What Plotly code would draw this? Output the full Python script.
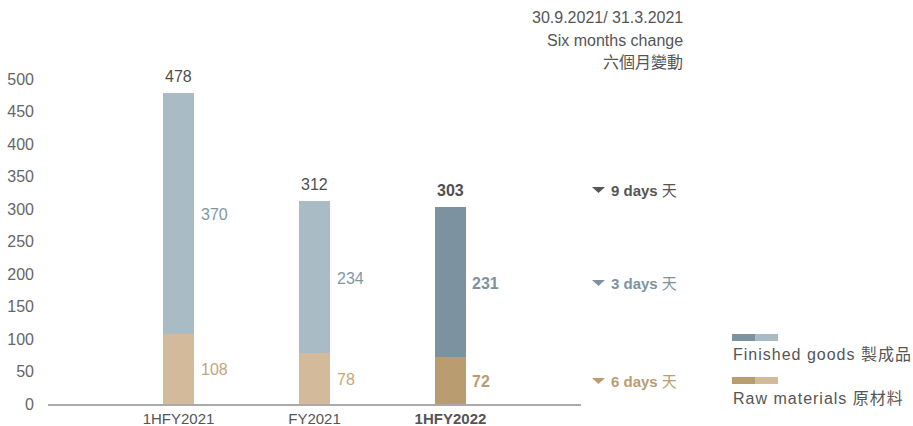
import plotly.graph_objects as go

# Inventory turnover days (stacked: raw materials + finished goods)
periods = ["1HFY2021", "FY2021", "1HFY2022"]
period_labels = ["1HFY2021", "FY2021", "<b>1HFY2022</b>"]
raw_materials = [108, 78, 72]
finished_goods = [370, 234, 231]
totals = [r + f for r, f in zip(raw_materials, finished_goods)]

change_days = [9, 3, 6]  # total, finished goods, raw materials

# palette
FG_LIGHT, FG_DARK = "#A9BBC4", "#7C939F"
RM_LIGHT, RM_DARK = "#D2BA9B", "#B99C70"
FG_TEXT, RM_TEXT = "#7F97A4", "#C4A57B"
DARK_TEXT = "#4F4F4F"
FONT = "Liberation Sans, Arial, Noto Sans CJK TC, sans-serif"
FS = 16

W, H = 913, 426
ML, MR, MT, MB = 48, 332, 14, 22
PW, PH = W - ML - MR, H - MT - MB


def fx(px):
    return (px - ML) / PW


def fy(py):
    return (H - MB - py) / PH


idx = list(range(len(periods)))
rm_colors = [RM_LIGHT, RM_LIGHT, RM_DARK]
fg_colors = [FG_LIGHT, FG_LIGHT, FG_DARK]

fig = go.Figure()
fig.add_trace(go.Bar(x=idx, y=raw_materials, marker=dict(color=rm_colors, line_width=0),
                     width=0.228, hoverinfo="skip"))
fig.add_trace(go.Bar(x=idx, y=finished_goods, marker=dict(color=fg_colors, line_width=0),
                     width=0.228, hoverinfo="skip"))

ann = []
last = len(periods) - 1
for i in idx:
    bold = i == last
    # totals above each bar
    ann.append(dict(x=i, y=totals[i], xref="x", yref="y", yshift=17, yanchor="middle",
                    text=f"<b>{totals[i]}</b>" if bold else str(totals[i]),
                    showarrow=False, font=dict(size=FS, color=DARK_TEXT)))
    # finished goods value beside its segment
    ann.append(dict(x=i, y=raw_materials[i] + finished_goods[i] / 2, xref="x", yref="y",
                    xanchor="left", yanchor="middle", xshift=20, yshift=-1,
                    text=f"<b>{finished_goods[i]}</b>" if bold else str(finished_goods[i]),
                    showarrow=False, font=dict(size=FS, color=FG_TEXT if not bold else FG_DARK)))
    # raw materials value beside its segment
    ann.append(dict(x=i, y=raw_materials[i] / 2, xref="x", yref="y",
                    xanchor="left", yanchor="middle", xshift=20, yshift=-1,
                    text=f"<b>{raw_materials[i]}</b>" if bold else str(raw_materials[i]),
                    showarrow=False, font=dict(size=FS, color=RM_TEXT if not bold else RM_DARK)))

# header on the right
for text, py in [("30.9.2021/ 31.3.2021", 18), ("Six months change", 41), ("六個月變動", 62)]:
    ann.append(dict(x=fx(685), y=fy(py), xref="paper", yref="paper",
                    xanchor="right", yanchor="middle",
                    text=text, showarrow=False, font=dict(size=FS, color="#555555")))

# six-month change rows, aligned with the latest period's labels
rows = [
    (change_days[0], totals[last], 17, "#555555"),
    (change_days[1], raw_materials[last] + finished_goods[last] / 2, -1, FG_DARK),
    (change_days[2], raw_materials[last] / 2, -1, RM_DARK),
]
shapes = []
for days, yv, ysh, col in rows:
    ann.append(dict(x=fx(679), y=yv, xref="paper", yref="y", yshift=ysh,
                    xanchor="right", yanchor="middle",
                    text=f"<b>{days} days</b> 天", showarrow=False,
                    font=dict(size=15, color=col)))

# triangles: placed at pixel rows of the change labels
for py, col in [(190, "#555555"), (283, FG_DARK), (381, RM_DARK)]:
    x0, x1, xm = fx(592), fx(605), fx(598.5)
    yt, yb = fy(py - 3), fy(py + 3)
    shapes.append(dict(type="path", xref="paper", yref="paper",
                       path=f"M{x0},{yt} L{x1},{yt} L{xm},{yb} Z",
                       fillcolor=col, line_width=0))

# custom legend with two-tone swatches
legend_items = [("Finished goods 製成品", FG_DARK, FG_LIGHT, 334, 354),
                ("Raw materials 原材料", RM_DARK, RM_LIGHT, 377, 398)]
for text, dark, light, sy, ty in legend_items:
    shapes.append(dict(type="rect", xref="paper", yref="paper", x0=fx(732), x1=fx(755),
                       y0=fy(sy + 7), y1=fy(sy), fillcolor=dark, line_width=0))
    shapes.append(dict(type="rect", xref="paper", yref="paper", x0=fx(755), x1=fx(778),
                       y0=fy(sy + 7), y1=fy(sy), fillcolor=light, line_width=0))
    ann.append(dict(x=fx(731), y=fy(ty), xref="paper", yref="paper",
                    xanchor="left", yanchor="middle",
                    text=f'<span style="letter-spacing:1px">{text}</span>', showarrow=False,
                    font=dict(size=FS, color="#555555")))

fig.update_layout(
    barmode="stack",
    width=W, height=H,
    margin=dict(l=ML, r=MR, t=MT, b=MB, pad=0, autoexpand=False),
    paper_bgcolor="white", plot_bgcolor="white",
    showlegend=False,
    font=dict(family=FONT, size=FS, color="#666666"),
    annotations=ann,
    shapes=shapes,
    xaxis=dict(range=[-0.96, 2.96], tickmode="array", tickvals=idx, ticktext=period_labels,
               showgrid=False, zeroline=False, showline=True, linecolor="#AAAAAA", linewidth=2,
               ticks="", tickfont=dict(size=15, color="#555555"), fixedrange=True,
               automargin=False),
    yaxis=dict(range=[0, 600], tickvals=list(range(0, 501, 50)), showgrid=False,
               zeroline=False, showline=False, ticks="", ticklabelstandoff=13,
               tickfont=dict(size=FS, color="#666666"), fixedrange=True,
               automargin=False),
)

fig.write_html("out.html", config={"displayModeBar": False})
